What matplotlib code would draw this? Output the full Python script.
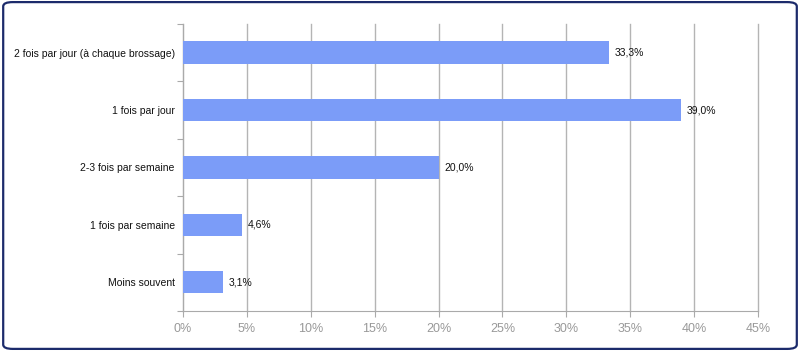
import matplotlib
matplotlib.use("Agg")
import matplotlib.pyplot as plt
from matplotlib.patches import FancyBboxPatch

plt.rcParams["font.family"] = ["Liberation Sans", "DejaVu Sans"]

categories = ["2 fois par jour (à chaque brossage)", "1 fois par jour",
              "2-3 fois par semaine", "1 fois par semaine", "Moins souvent"]
values = [33.3, 39.0, 20.0, 4.6, 3.1]
value_labels = ["33,3%", "39,0%", "20,0%", "4,6%", "3,1%"]
xticks = [0, 5, 10, 15, 20, 25, 30, 35, 40, 45]

fig = plt.figure(figsize=(8, 3.51), dpi=100)
ax = fig.add_axes([0.22875, 0.114, 0.71875, 0.818])

ypos = list(range(len(categories)))
ax.barh(ypos, values, height=0.39, color="#7b9cf8", zorder=3)
for y, v, lab in zip(ypos, values, value_labels):
    ax.text(v + 0.45, y, lab, va="center", ha="left", fontsize=7.5, color="#111111")

ax.set_xlim(0, 45)
ax.set_ylim(len(categories) - 0.5, -0.5)
ax.set_xticks(xticks)
ax.set_xticklabels([f"{t}%" for t in xticks], color="#999999", fontsize=9)
ax.xaxis.grid(True, color="#b4b4b4", linewidth=1, zorder=0)
for gl in ax.get_xgridlines():
    gl.set_clip_on(False)
ax.tick_params(axis="x", length=4, color="#aaaaaa", pad=5)

# category labels centred on bars, ticks on band boundaries
ax.set_yticks([y - 0.5 for y in ypos] + [len(categories) - 0.5])
ax.set_yticklabels([])
ax.set_yticks(ypos, minor=True)
ax.set_yticklabels(categories, minor=True, fontsize=7.5, color="#111111")
ax.tick_params(axis="y", which="major", length=4, color="#aaaaaa")
ax.tick_params(axis="y", which="minor", length=0, pad=6)

for s in ["top", "right"]:
    ax.spines[s].set_visible(False)
for s in ["left", "bottom"]:
    ax.spines[s].set_color("#aaaaaa")

border = FancyBboxPatch((0.004, 0.006), 0.992, 0.988,
                        boxstyle="round,pad=0,rounding_size=0.012",
                        transform=fig.transFigure, facecolor="none",
                        edgecolor="#1c2b6b", linewidth=1.6)
fig.patches.append(border)

fig.savefig("out.png", dpi=100)
